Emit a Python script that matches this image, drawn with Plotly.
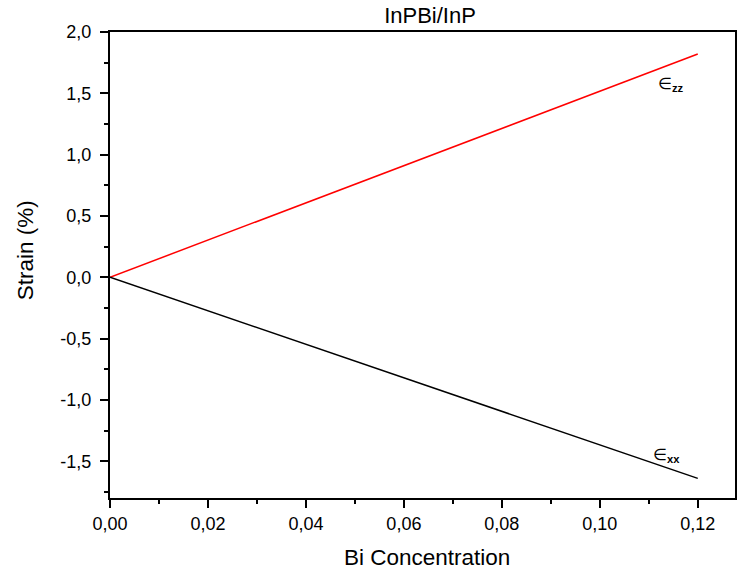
import plotly.graph_objects as go

x_conc = [0.0, 0.12]
strain_zz = [0.0, 1.82]
strain_xx = [0.0, -1.64]

x_tickvals = [0, 0.02, 0.04, 0.06, 0.08, 0.10, 0.12]
x_ticktext = ["0,00", "0,02", "0,04", "0,06", "0,08", "0,10", "0,12"]
y_tickvals = [-1.5, -1.0, -0.5, 0.0, 0.5, 1.0, 1.5, 2.0]
y_ticktext = ["-1,5", "-1,0", "-0,5", "0,0", "0,5", "1,0", "1,5", "2,0"]

title_text = "InPBi/InP"
x_title = "Bi Concentration"
y_title = "Strain (%)"
label_zz = "∈<sub><b>zz</b></sub>"
label_xx = "∈<sub><b>xx</b></sub>"

FONT = "Liberation Sans, Arial, sans-serif"

fig = go.Figure()
fig.add_trace(go.Scatter(x=x_conc, y=strain_zz, mode="lines",
                         line=dict(color="#ff0000", width=1.5), showlegend=False))
fig.add_trace(go.Scatter(x=x_conc, y=strain_xx, mode="lines",
                         line=dict(color="#000000", width=1.5), showlegend=False))

fig.add_annotation(x=0.1145, y=1.57, text=label_zz, showarrow=False,
                   font=dict(size=16, color="black", family=FONT), xanchor="center")
fig.add_annotation(x=0.1137, y=-1.45, text=label_xx, showarrow=False,
                   font=dict(size=16, color="black", family=FONT), xanchor="center")

# axis titles as paper annotations for precise placement
fig.add_annotation(x=-0.1356, y=0.532, xref="paper", yref="paper", text=y_title,
                   textangle=-90, showarrow=False, xanchor="center", yanchor="middle",
                   font=dict(size=22.5, color="black", family=FONT))
fig.add_annotation(x=0.507, y=-0.128, xref="paper", yref="paper", text=x_title,
                   showarrow=False, xanchor="center", yanchor="middle",
                   font=dict(size=22.5, color="black", family=FONT))

fig.update_layout(
    width=737, height=574,
    margin=dict(l=110, r=0, t=32, b=76),
    paper_bgcolor="white", plot_bgcolor="white",
    font=dict(family=FONT, color="black", size=18),
    title=dict(text=title_text, x=0.5835, xanchor="center", y=0.973, yanchor="middle",
               font=dict(size=22)),
)
fig.update_xaxes(
    range=[0, 0.1276], tickvals=x_tickvals, ticktext=x_ticktext,
    ticks="outside", ticklen=8, tickwidth=2, tickcolor="black",
    showline=True, linewidth=2, linecolor="black", mirror=True,
    showgrid=False, zeroline=False,
    minor=dict(dtick=0.01, ticks="outside", ticklen=4, tickwidth=2, tickcolor="black", tick0=0),
)
fig.update_yaxes(
    range=[-1.8, 2.0], tickvals=y_tickvals, ticktext=y_ticktext,
    ticks="outside", ticklen=8, tickwidth=2, tickcolor="black",
    showline=True, linewidth=2, linecolor="black", mirror=True,
    showgrid=False, zeroline=False, ticklabelstandoff=5,
    minor=dict(dtick=0.25, ticks="outside", ticklen=4, tickwidth=2, tickcolor="black", tick0=0),
)

fig.write_html("out.html")
